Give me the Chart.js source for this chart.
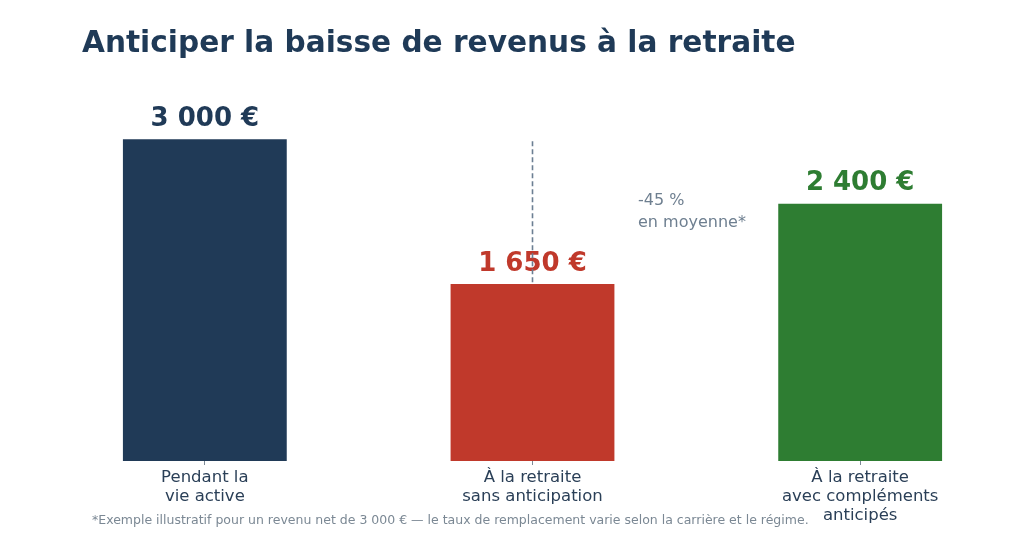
<!DOCTYPE html>
<html lang="fr">
<head>
<meta charset="utf-8">
<title>Anticiper la baisse de revenus à la retraite</title>
<script src="https://cdn.jsdelivr.net/npm/chart.js@4.4.1/dist/chart.umd.min.js"></script>
<style>
  html, body { margin: 0; padding: 0; background: #ffffff; }
  #wrap { position: relative; width: 1024px; height: 536px; overflow: hidden; }
  #chart { position: absolute; left: 0; top: 0; }
  #title {
    position: absolute; left: 82px; top: 28px; margin: 0; line-height: 1;
    font-family: "DejaVu Sans", sans-serif; font-weight: bold; font-size: 29.6px;
    color: #1f3a57; white-space: nowrap;
  }
  #note {
    position: absolute; left: 92px; top: 514px; margin: 0; line-height: 1;
    font-family: "DejaVu Sans", sans-serif; font-size: 12.5px;
    color: #7b8894; white-space: nowrap;
  }
</style>
</head>
<body>
<div id="wrap">
  <canvas id="chart" width="1024" height="536"></canvas>
  <h1 id="title">Anticiper la baisse de revenus à la retraite</h1>
  <p id="note">*Exemple illustratif pour un revenu net de 3 000 € — le taux de remplacement varie selon la carrière et le régime.</p>
</div>
<script>
// Données
const categories = [
    ['Pendant la', 'vie active'],
    ['À la retraite', 'sans anticipation'],
    ['À la retraite', 'avec compléments', 'anticipés']
];
const revenus = [3000, 1650, 2400];
const valueLabels = ['3 000 €', '1 650 €', '2 400 €'];
const barColors = ['#203a57', '#c0392b', '#2e7d32'];
const dropLabel = ['-45 %', 'en moyenne*'];

Chart.defaults.font.family = '"DejaVu Sans", sans-serif';

// Valeurs au-dessus des barres + ligne pointillée de baisse
const annotations = {
    id: 'annotations',
    afterDatasetsDraw(chart) {
        const ctx = chart.ctx;
        const bars = chart.getDatasetMeta(0).data;
        const x = chart.scales.x;
        const y = chart.scales.y;

        ctx.save();
        ctx.font = 'bold 26px "DejaVu Sans", sans-serif';
        ctx.textAlign = 'center';
        ctx.textBaseline = 'alphabetic';
        bars.forEach((bar, i) => {
            ctx.fillStyle = barColors[i];
            ctx.fillText(valueLabels[i], bar.x, bar.y - 13.5);
        });

        // ligne pointillée du niveau actif vers la retraite
        const cx = x.getPixelForValue(1);
        ctx.strokeStyle = '#6c7f93';
        ctx.lineWidth = 1.6;
        ctx.setLineDash([5, 3]);
        ctx.beginPath();
        ctx.moveTo(cx, y.getPixelForValue(revenus[0]) + 2);
        ctx.lineTo(cx, y.getPixelForValue(revenus[1]));
        ctx.stroke();
        ctx.setLineDash([]);

        const step = x.getPixelForValue(1) - x.getPixelForValue(0);
        const midY = y.getPixelForValue((revenus[0] + revenus[1]) / 2);
        ctx.font = '16px "DejaVu Sans", sans-serif';
        ctx.fillStyle = '#6e7f90';
        ctx.textAlign = 'left';
        ctx.textBaseline = 'middle';
        ctx.fillText(dropLabel[0], cx + step * 0.322, midY - 11);
        ctx.fillText(dropLabel[1], cx + step * 0.322, midY + 11);
        ctx.restore();
    }
};

new Chart(document.getElementById('chart'), {
    type: 'bar',
    data: {
        labels: categories,
        datasets: [{
            data: revenus,
            backgroundColor: barColors,
            borderWidth: 0,
            categoryPercentage: 1.0,
            barPercentage: 0.5
        }]
    },
    options: {
        responsive: false,
        animation: false,
        layout: { padding: { left: 41, right: 0, top: 75, bottom: 0 } },
        plugins: {
            legend: { display: false },
            tooltip: { enabled: false }
        },
        scales: {
            x: {
                offset: true,
                grid: {
                    offset: false,
                    drawOnChartArea: false,
                    drawTicks: true,
                    tickLength: 4,
                    color: '#7d8a96'
                },
                border: { display: false },
                ticks: {
                    padding: 3,
                    color: '#2a3f57',
                    font: { size: 16.5, lineHeight: 1.16 }
                },
                afterFit(scale) { scale.height = 75; }
            },
            y: {
                display: false,
                min: 0,
                max: 3600
            }
        }
    },
    plugins: [annotations]
});
</script>
</body>
</html>
